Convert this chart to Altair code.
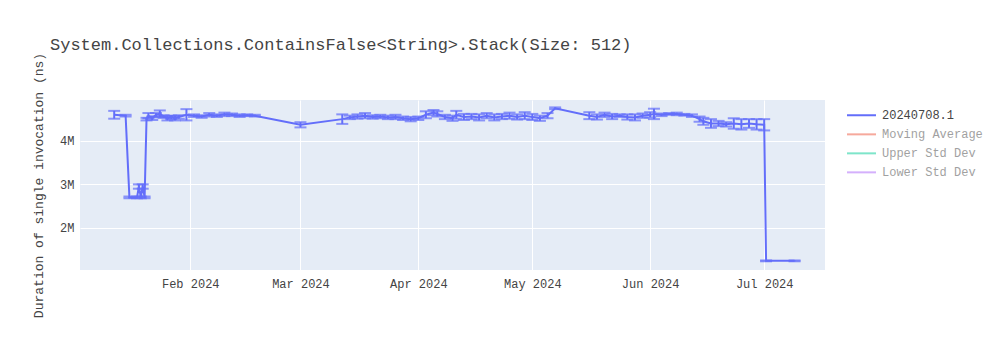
import altair as alt
import pandas as pd

# ---- data ----
dates = [
    "2024-01-12", "2024-01-15", "2024-01-16", "2024-01-18", "2024-01-18T12", "2024-01-19",
    "2024-01-19T12", "2024-01-20", "2024-01-20T12", "2024-01-21", "2024-01-22", "2024-01-23",
    "2024-01-24", "2024-01-25", "2024-01-26", "2024-01-27", "2024-01-28", "2024-01-29",
    "2024-01-31", "2024-02-02", "2024-02-04", "2024-02-06", "2024-02-08", "2024-02-10",
    "2024-02-12", "2024-02-14", "2024-02-16", "2024-02-18", "2024-03-01", "2024-03-12",
    "2024-03-14", "2024-03-16", "2024-03-18", "2024-03-20", "2024-03-22", "2024-03-24",
    "2024-03-26", "2024-03-28", "2024-03-30", "2024-04-01", "2024-04-03", "2024-04-05",
    "2024-04-06", "2024-04-08", "2024-04-10", "2024-04-11", "2024-04-13", "2024-04-15",
    "2024-04-17", "2024-04-19", "2024-04-21", "2024-04-23", "2024-04-25", "2024-04-27",
    "2024-04-29", "2024-05-01", "2024-05-03", "2024-05-05", "2024-05-07", "2024-05-16",
    "2024-05-18", "2024-05-20", "2024-05-22", "2024-05-24", "2024-05-26", "2024-05-28",
    "2024-05-30", "2024-06-01", "2024-06-02", "2024-06-04", "2024-06-06", "2024-06-08",
    "2024-06-10", "2024-06-12", "2024-06-14", "2024-06-15", "2024-06-17", "2024-06-19",
    "2024-06-21", "2024-06-23", "2024-06-25", "2024-06-27", "2024-06-29", "2024-07-01",
    "2024-07-01T12", "2024-07-09",
]
values = [
    4600000, 4580000, 2700000, 2700000, 2950000, 2700000,
    2950000, 2700000, 4500000, 4580000, 4520000, 4600000,
    4620000, 4560000, 4520000, 4540000, 4520000, 4550000,
    4600000, 4580000, 4560000, 4600000, 4580000, 4610000,
    4600000, 4580000, 4590000, 4580000, 4370000, 4500000,
    4540000, 4560000, 4580000, 4550000, 4560000, 4540000,
    4550000, 4520000, 4500000, 4520000, 4600000, 4650000,
    4620000, 4550000, 4520000, 4600000, 4550000, 4560000,
    4540000, 4580000, 4540000, 4560000, 4580000, 4550000,
    4580000, 4550000, 4520000, 4580000, 4750000, 4580000,
    4550000, 4600000, 4560000, 4580000, 4550000, 4540000,
    4580000, 4600000, 4620000, 4600000, 4620000, 4620000,
    4600000, 4580000, 4500000, 4450000, 4400000, 4400000,
    4380000, 4400000, 4380000, 4400000, 4380000, 4370000,
    1240000, 1240000,
]
errors = [
    90000, 20000, 20000, 20000, 50000, 20000,
    50000, 20000, 30000, 60000, 40000, 40000,
    80000, 30000, 50000, 40000, 50000, 40000,
    130000, 30000, 30000, 40000, 30000, 40000,
    30000, 30000, 20000, 20000, 60000, 110000,
    40000, 50000, 60000, 40000, 40000, 40000,
    50000, 40000, 50000, 40000, 80000, 60000,
    60000, 50000, 60000, 90000, 70000, 60000,
    70000, 60000, 70000, 60000, 70000, 60000,
    80000, 70000, 60000, 60000, 20000, 80000,
    60000, 50000, 60000, 30000, 60000, 70000,
    50000, 60000, 120000, 30000, 20000, 30000,
    20000, 30000, 60000, 80000, 100000, 60000,
    50000, 120000, 120000, 100000, 120000, 130000,
    10000, 10000,
]

series_names = ["20240708.1", "Moving Average", "Upper Std Dev", "Lower Std Dev"]
series_colors = ["#636EFA", "#EF553B", "#00CC96", "#AB63FA"]

df = pd.DataFrame({
    "date": [d if "T" in d else d + "T00:00:00" for d in dates],
    "value": values,
    "err": errors,
})
df["date"] = [d if d.count(":") == 2 else d + ":00:00" for d in df["date"]]
df["lo"] = df["value"] - df["err"]
df["hi"] = df["value"] + df["err"]
df["series"] = series_names[0]

FONT = "Liberation Mono"
LINE = "#636EFA"

xenc = alt.X(
    "date:T",
    scale=alt.Scale(domain=[alt.DateTime(year=2024, month=1, date=3),
                            alt.DateTime(year=2024, month=7, date=17)]),
    axis=alt.Axis(title=None, format="%b %Y", tickCount={"interval": "month", "step": 1},
                  labelPadding=8),
)
yscale = alt.Scale(domain=[1030000, 4940000], nice=False, zero=False)

sel = alt.selection_point(name="shown", fields=["series"], bind="legend",
                          value=[{"series": series_names[0]}])

base = alt.Chart(df)

line = base.mark_line(strokeWidth=2).encode(
    x=xenc,
    y=alt.Y("value:Q", scale=yscale,
            axis=alt.Axis(title="Duration of single invocation (ns)", values=[2000000, 3000000, 4000000],
                          format="~s", titlePadding=14, labelPadding=6, titleFontSize=13)),
    color=alt.Color("series:N",
                    scale=alt.Scale(domain=series_names, range=series_colors),
                    legend=alt.Legend(title=None, orient="none", legendX=766, legendY=6,
                                      symbolType="stroke", symbolSize=840, symbolStrokeWidth=2,
                                      clipHeight=18.7, rowPadding=0, labelOffset=5, padding=0)),
).add_params(sel)

rules = base.mark_rule(strokeWidth=2, color=LINE).encode(
    x="date:T", y=alt.Y("lo:Q", scale=yscale), y2="hi:Q")
cap_lo = base.mark_tick(orient="horizontal", size=12, thickness=2, color=LINE).encode(
    x="date:T", y=alt.Y("lo:Q", scale=yscale))
cap_hi = base.mark_tick(orient="horizontal", size=12, thickness=2, color=LINE).encode(
    x="date:T", y=alt.Y("hi:Q", scale=yscale))

chart = alt.layer(rules, cap_lo, cap_hi, line).properties(
    width=745, height=170,
    background="white",
    title=alt.TitleParams("System.Collections.ContainsFalse<String>.Stack(Size: 512)",
                          anchor="start", frame="group", dx=-30, offset=0, dy=15,
                          baseline="alphabetic", font=FONT, fontSize=17,
                          fontWeight="normal", color="#444"),
    autosize=alt.AutoSizeParams(type="none"),
    padding={"left": 80, "top": 100, "right": 175, "bottom": 80},
).configure_view(fill="#E5ECF6", strokeWidth=0).configure_axis(
    grid=True, gridColor="white", gridWidth=1, domain=False, ticks=False,
    labelFont=FONT, labelFontSize=12, labelColor="#444",
    titleFont=FONT, titleFontSize=14, titleColor="#444", titleFontWeight="normal",
).configure_legend(
    labelFont=FONT, labelFontSize=12, labelColor="#444", unselectedOpacity=0.5,
)

chart.save("out.html", embed_options={"renderer": "svg", "actions": False})
